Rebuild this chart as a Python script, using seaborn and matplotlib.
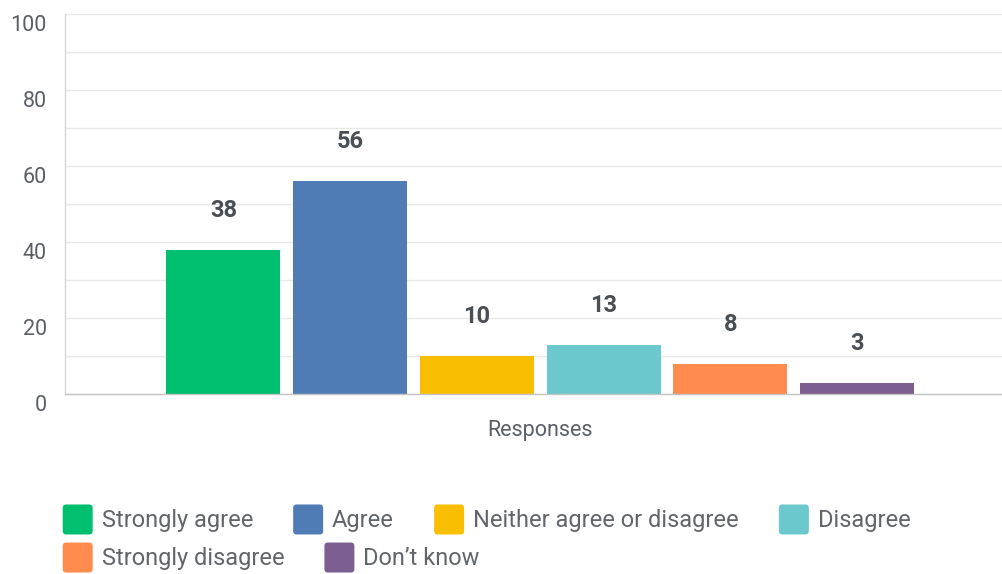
import pandas as pd
import numpy as np
import matplotlib
matplotlib.use('Agg')
import matplotlib.pyplot as plt
import matplotlib.transforms as mtransforms
from matplotlib.patches import Patch, FancyBboxPatch
from matplotlib.legend_handler import HandlerPatch
import seaborn as sns

# Survey answers and response counts
answers = ['Strongly agree', 'Agree', 'Neither agree or disagree',
           'Disagree', 'Strongly disagree', "Don\u2019t know"]
counts = [38, 56, 10, 13, 8, 3]
colors = ['#00bf6f', '#507cb6', '#f9be00', '#6bc8cd', '#ff8b4f', '#7d5e90']
group = 'Responses'
y_ticks = [0, 20, 40, 60, 80, 100]

sns.set_style('white')
plt.rcParams['font.family'] = ['Roboto', 'DejaVu Sans']

df = pd.DataFrame({'group': [group] * len(answers), 'answer': answers, 'count': counts})

fig = plt.figure(figsize=(10.03, 5.74), dpi=100)
ax = fig.add_axes([0.0648, 0.3136, 0.9352, 0.662])

sns.barplot(data=df, x='group', y='count', hue='answer', hue_order=answers,
            palette=colors, width=0.8, gap=0.1, legend=False, ax=ax,
            saturation=1, edgecolor='none')

for cont in ax.containers:
    ax.bar_label(cont, padding=20, fontsize=17, fontweight='bold', color='#4a4f55')

ax.set_ylim(0, 100)
ax.set_xlim(-0.5, 0.487)
ax.set_yticks(y_ticks)
ax.set_yticks(np.arange(10, 100, 20), minor=True)
ax.grid(axis='y', which='both', color='#e8e8e8', linewidth=1)
ax.set_axisbelow(True)
ax.tick_params(axis='y', which='both', length=0, pad=13, labelsize=15.5, labelcolor='#5a5f66')
ax.tick_params(axis='x', length=0, pad=19, labelsize=15.5, labelcolor='#5a5f66')
ax.set_xlabel('')
ax.set_ylabel('')

# shift y labels slightly below their gridlines
offset = mtransforms.ScaledTranslation(0, -9 / 100, fig.dpi_scale_trans)
for lbl in ax.get_yticklabels():
    lbl.set_transform(lbl.get_transform() + offset)

for side in ['top', 'right']:
    ax.spines[side].set_visible(False)
ax.spines['left'].set_color('#d6d6d6')
ax.spines['bottom'].set_color('#c4c4c4')
ax.spines['left'].set_linewidth(1)
ax.spines['bottom'].set_linewidth(1)


class RoundHandler(HandlerPatch):
    def create_artists(self, legend, orig_handle, xdescent, ydescent,
                       width, height, fontsize, trans):
        p = FancyBboxPatch((-xdescent, -ydescent), width, height,
                           boxstyle='round,pad=0,rounding_size=2.5',
                           fc=orig_handle.get_facecolor(), ec='none', transform=trans)
        return [p]


handles = [Patch(facecolor=c, label=a) for a, c in zip(answers, colors)]
leg_kw = dict(frameon=False, fontsize=17, labelcolor='#62666b', handler_map={Patch: RoundHandler()},
              handlelength=1.27, handleheight=1.577, handletextpad=0.38, columnspacing=1.7,
              borderpad=0, borderaxespad=0, loc='center left')
leg1 = fig.legend(handles=handles[:4], ncol=4, bbox_to_anchor=(0.0625, 0.095), **leg_kw)
leg2 = fig.legend(handles=handles[4:], ncol=2, bbox_to_anchor=(0.0625, 0.0287), **leg_kw)

plt.savefig('out.png', dpi=100)
plt.close()
